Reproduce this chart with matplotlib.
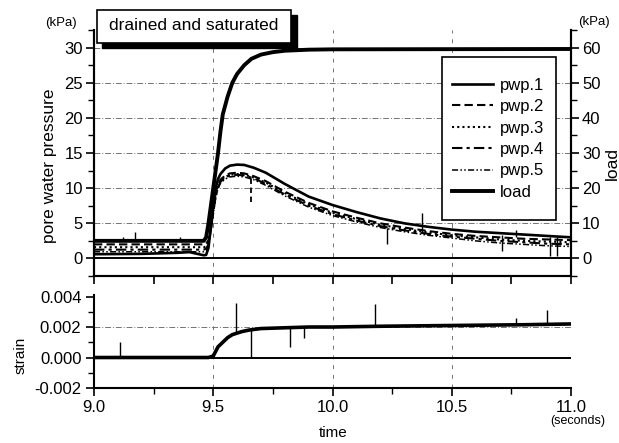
import matplotlib
matplotlib.use("Agg")
import matplotlib.pyplot as plt
from matplotlib.patches import Rectangle
from matplotlib.ticker import MultipleLocator

plt.rcParams['font.family'] = ['Liberation Sans', 'DejaVu Sans']

#############################
# DATA
#############################

# pore water pressure (kPa, left axis)
t_pwp = [9.0, 9.2, 9.35, 9.4, 9.44, 9.46, 9.47, 9.48, 9.49, 9.50, 9.51, 9.52, 9.53, 9.55,
         9.57, 9.60, 9.63, 9.67, 9.72, 9.8, 9.9, 10.0, 10.1, 10.2, 10.3, 10.4, 10.5, 10.6,
         10.7, 10.8, 10.9, 11.0]
pwp1 = [0.6, 0.65, 0.8, 0.9, 0.6, 0.45, 0.5, 1.5, 4.5, 7.5, 10.0, 11.3, 12.0, 12.8,
        13.2, 13.35, 13.3, 12.9, 12.2, 10.6, 8.8, 7.6, 6.6, 5.7, 5.0, 4.5, 4.1, 3.8,
        3.6, 3.4, 3.2, 3.0]
pwp2 = [2.0, 2.0, 2.0, 2.0, 2.0, 2.0, 2.1, 2.6, 4.5, 7.0, 9.3, 10.5, 11.2, 11.8,
        12.1, 12.2, 12.1, 11.7, 11.0, 9.5, 7.9, 6.7, 5.8, 5.0, 4.4, 3.9, 3.5, 3.2,
        3.0, 2.8, 2.7, 2.6]
pwp3 = [1.6, 1.6, 1.6, 1.6, 1.6, 1.6, 1.7, 2.3, 4.2, 6.7, 9.0, 10.3, 11.0, 11.6,
        11.9, 12.0, 11.9, 11.5, 10.8, 9.3, 7.7, 6.5, 5.6, 4.8, 4.2, 3.7, 3.3, 3.0,
        2.7, 2.5, 2.4, 2.3]
pwp4 = [1.25, 1.25, 1.25, 1.25, 1.25, 1.25, 1.4, 2.0, 4.0, 6.5, 8.8, 10.1, 10.9, 11.5,
        11.8, 11.9, 11.8, 11.4, 10.6, 9.1, 7.5, 6.3, 5.4, 4.6, 4.0, 3.5, 3.1, 2.8,
        2.5, 2.3, 2.1, 2.0]
pwp5 = [0.95, 0.95, 0.95, 0.95, 0.95, 0.95, 1.1, 1.8, 3.8, 6.3, 8.6, 9.9, 10.7, 11.3,
        11.6, 11.7, 11.6, 11.2, 10.4, 8.9, 7.3, 6.1, 5.2, 4.4, 3.8, 3.3, 2.9, 2.5,
        2.2, 2.0, 1.8, 1.7]

# load (kPa, right axis)
t_load = [9.0, 9.46, 9.47, 9.48, 9.49, 9.50, 9.51, 9.52, 9.53, 9.54, 9.56, 9.58, 9.60,
          9.63, 9.66, 9.70, 9.75, 9.8, 9.9, 10.0, 11.0]
load = [5.0, 5.0, 6.0, 10.0, 15.0, 20.0, 25.0, 30.0, 36.0, 41.0, 46.0, 50.0, 52.5,
        55.0, 56.8, 58.0, 58.7, 59.1, 59.4, 59.5, 59.6]

# spikes in pwp records (time, from, to)
pwp_spike_t = [9.12, 9.17, 9.36, 10.23, 10.375, 10.71, 10.77, 10.91, 10.94]
pwp_spike_lo = [2.5, 2.5, 2.5, 2.1, 3.7, 1.1, 3.0, 0.4, 0.4]
pwp_spike_hi = [3.1, 3.7, 3.0, 4.4, 6.4, 3.3, 4.0, 3.1, 3.0]

# strain
t_strain = [9.0, 9.2, 9.4, 9.48, 9.5, 9.51, 9.52, 9.54, 9.56, 9.58, 9.6, 9.62, 9.65,
            9.7, 9.8, 9.9, 10.0, 10.2, 10.5, 10.8, 11.0]
strain = [0.0, 0.0, 0.0, 0.0, 0.0001, 0.0004, 0.0007, 0.001, 0.0013, 0.0015, 0.0016,
          0.0017, 0.0018, 0.0019, 0.00195, 0.002, 0.002, 0.00205, 0.0021, 0.00215, 0.0022]
strain_spike_t = [9.11, 9.596, 9.658, 9.82, 9.88, 10.18, 10.77, 10.9]
strain_spike_lo = [0.0, 0.0016, 0.0, 0.0007, 0.00126, 0.0021, 0.0022, 0.0022]
strain_spike_hi = [0.001, 0.0036, 0.0018, 0.00195, 0.002, 0.0035, 0.0026, 0.0031]

#############################
# FIGURE
#############################

W, H = 619, 443
fig = plt.figure(figsize=(W / 100, H / 100), dpi=100)

def fx(px):
    return px / W

def fy(py):
    return 1 - py / H

ax = fig.add_axes([fx(94), fy(276), fx(571) - fx(94), fy(30) - fy(276)])
ax2 = ax.twinx()
axs = fig.add_axes([fx(94), fy(388), fx(571) - fx(94), fy(295) - fy(388)])

grid_kw = dict(color='0.45', lw=0.7)

# top panel
ax.set_xlim(9.0, 11.0)
ax.set_ylim(-2.5, 32.5)
ax2.set_ylim(-5, 65)
for y in [5, 10, 15, 20, 25, 30]:
    ax.axhline(y, ls=(0, (6, 2, 1, 2)), **grid_kw)
for x in [9.5, 10.0, 10.5]:
    ax.axvline(x, ls=(0, (4, 6)), **grid_kw)
ax.axhline(0, color='k', lw=1.4)

ax.plot(t_pwp, pwp1, color='k', lw=1.9, ls='-', label='pwp.1')
ax.plot(t_pwp, pwp2, color='k', lw=1.5, ls=(0, (4, 2)), label='pwp.2')
ax.plot(t_pwp, pwp3, color='k', lw=1.5, ls=(0, (1, 1.5)), label='pwp.3')
ax.plot(t_pwp, pwp4, color='k', lw=1.5, ls=(0, (5, 2, 1.5, 2)), label='pwp.4')
ax.plot(t_pwp, pwp5, color='k', lw=1.1, ls=(0, (4, 1.5, 1, 1.5, 1, 1.5)), label='pwp.5')
ax.vlines(pwp_spike_t, pwp_spike_lo, pwp_spike_hi, color='k', lw=1.0)
ax.vlines([9.66], [8.0], [11.8], color='k', lw=1.3, ls=(0, (3, 2)))
ln_load, = ax2.plot(t_load, load, color='k', lw=2.8, label='load')

ax.set_xticks([9.0, 9.25, 9.5, 9.75, 10.0, 10.25, 10.5, 10.75, 11.0])
ax.tick_params(axis='x', labelbottom=False, length=6, width=1.2, direction='out')
ax.yaxis.set_minor_locator(MultipleLocator(2.5))
ax.tick_params(axis='y', which='major', labelsize=12, length=6, width=1.2, pad=2)
ax.tick_params(axis='y', which='minor', length=4, width=1.0)
ax2.yaxis.set_minor_locator(MultipleLocator(5))
ax2.tick_params(axis='y', which='major', labelsize=12, length=6, width=1.2, pad=2)
ax2.tick_params(axis='y', which='minor', length=4, width=1.0)
ax.set_yticks([0, 5, 10, 15, 20, 25, 30])
ax2.set_yticks([0, 10, 20, 30, 40, 50, 60])

for a in (ax, ax2):
    a.spines['top'].set_visible(False)
    for s in ('left', 'right', 'bottom'):
        a.spines[s].set_linewidth(1.5)

# legend: frame drawn as a box, entries placed inside it
ax2.add_patch(Rectangle((fx(442), fy(220)), fx(556) - fx(442), fy(57) - fy(220),
                        transform=fig.transFigure, facecolor='white', edgecolor='k',
                        lw=1.2, zorder=4.5, clip_on=False))
handles, labels = ax.get_legend_handles_labels()
handles.append(ln_load)
labels.append('load')
leg = ax2.legend(handles, labels, loc='upper left',
                 bbox_to_anchor=(fx(452), fy(78)), bbox_transform=fig.transFigure,
                 fontsize=12, frameon=False, handlelength=2.45, handletextpad=0.4,
                 labelspacing=0.38, borderpad=0, borderaxespad=0)

# bottom panel
axs.set_xlim(9.0, 11.0)
axs.set_ylim(-0.002, 0.0041)
axs.axhline(0.002, ls=(0, (6, 2, 1, 2)), **grid_kw)
for x in [9.5, 10.0, 10.5]:
    axs.axvline(x, ls=(0, (4, 6)), **grid_kw)
axs.axhline(0, color='k', lw=1.4)
axs.plot(t_strain, strain, color='k', lw=2.6)
axs.vlines(strain_spike_t, strain_spike_lo, strain_spike_hi, color='k', lw=1.0)

axs.set_xticks([9.0, 9.5, 10.0, 10.5, 11.0])
axs.set_xticklabels(['9.0', '9.5', '10.0', '10.5', '11.0'])
axs.xaxis.set_minor_locator(MultipleLocator(0.25))
axs.set_yticks([-0.002, 0.0, 0.002, 0.004])
axs.set_yticklabels(['-0.002', '0.000', '0.002', '0.004'])
axs.yaxis.set_minor_locator(MultipleLocator(0.001))
axs.tick_params(which='major', labelsize=12, length=6, width=1.2, pad=3)
axs.tick_params(which='minor', length=4, width=1.0)
axs.spines['top'].set_visible(False)
axs.spines['right'].set_visible(False)
axs.spines['left'].set_linewidth(1.5)
axs.spines['bottom'].set_linewidth(1.5)

# labels
fig.text(fx(50), fy(166), 'pore water pressure', rotation=90, ha='center', va='center', fontsize=12.5)
fig.text(fx(612), fy(163), 'load', rotation=90, ha='center', va='center', fontsize=12.5)
fig.text(fx(21), fy(355), 'strain', rotation=90, ha='center', va='center', fontsize=11)
fig.text(fx(333), fy(433), 'time', ha='center', va='center', fontsize=11)
fig.text(fx(578), fy(421), '(seconds)', ha='center', va='center', fontsize=9)
fig.text(fx(61), fy(23), '(kPa)', ha='center', va='center', fontsize=9.5)
fig.text(fx(594), fy(22), '(kPa)', ha='center', va='center', fontsize=9.5)

# title box with shadow
fig.patches.append(Rectangle((fx(102), fy(48)), fx(297) - fx(102), fy(15) - fy(48),
                             transform=fig.transFigure, facecolor='k', edgecolor='k'))
fig.patches.append(Rectangle((fx(97), fy(43)), fx(291) - fx(97), fy(10) - fy(43),
                             transform=fig.transFigure, facecolor='white', edgecolor='k', lw=1.2))
fig.text(fx(194), fy(26), 'drained and saturated', ha='center', va='center', fontsize=12.5)

plt.savefig('out.png', dpi=100)
